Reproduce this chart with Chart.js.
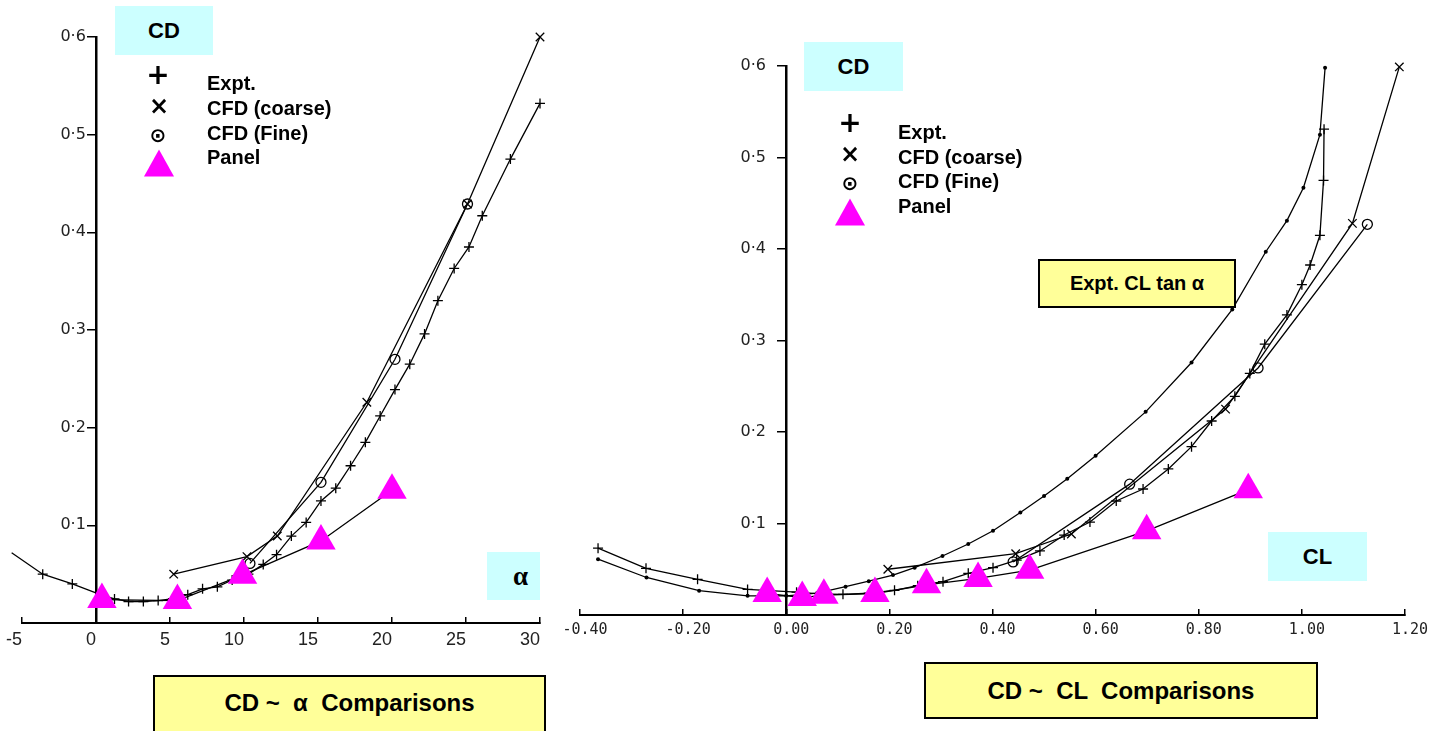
<!DOCTYPE html>
<html>
<head>
<meta charset="utf-8">
<script src="https://cdn.jsdelivr.net/npm/chart.js@4.4.0/dist/chart.umd.min.js"></script>
<style>
html, body { margin:0; padding:0; background:#fff; width:1447px; height:731px; overflow:hidden; }
canvas { position:absolute; top:0; }
#leftChart { left:-20px; }
#rightChart { left:540px; }
.box { position:absolute; box-sizing:border-box; font-family:"Liberation Sans", Arial, sans-serif; font-weight:bold; color:#000; display:flex; align-items:center; justify-content:center; white-space:pre; }
.cyan { background:#ccffff; }
.yellow { background:#ffff99; border:2px solid #000; }
.lbl { position:absolute; font-family:"Liberation Sans", Arial, sans-serif; font-weight:bold; font-size:20px; line-height:20px; white-space:pre; }
.sym { position:absolute; font-family:"DejaVu Sans", sans-serif; font-weight:bold; transform:translate(-50%,-50%); line-height:1; }
.tri { position:absolute; width:0; height:0; border-left:15px solid transparent; border-right:15px solid transparent; border-bottom:27px solid #ff00ff; transform:translate(-50%,-50%); }
</style>
</head>
<body>
<canvas id="leftChart" width="588" height="731"></canvas>
<canvas id="rightChart" width="907" height="731"></canvas>

<!-- left panel labels -->
<div class="box cyan" style="left:115px;top:6px;width:98px;height:49px;font-size:22px;">CD</div>
<div class="sym" style="left:158px;top:75px;font-size:28px;">+</div>
<div class="sym" style="left:159px;top:106px;font-size:24px;">×</div>
<div class="sym" style="left:158px;top:135px;font-size:20px;">⊙</div>
<div class="tri" style="left:159px;top:163px;"></div>
<div class="lbl" style="left:207px;top:73px;">Expt.</div>
<div class="lbl" style="left:207px;top:98px;">CFD (coarse)</div>
<div class="lbl" style="left:207px;top:123px;">CFD (Fine)</div>
<div class="lbl" style="left:207px;top:147px;">Panel</div>
<div class="box cyan" style="left:487px;top:552px;width:53px;height:48px;font-family:'Liberation Serif',serif;font-size:27px;padding-left:14px;">α</div>
<div class="box yellow" style="left:153px;top:675px;width:393px;height:64px;font-size:24px;align-items:flex-start;padding-top:12px;">CD ~  α  Comparisons</div>

<!-- right panel labels -->
<div class="box cyan" style="left:804px;top:42px;width:99px;height:49px;font-size:22px;">CD</div>
<div class="sym" style="left:850px;top:123px;font-size:28px;">+</div>
<div class="sym" style="left:850px;top:154px;font-size:24px;">×</div>
<div class="sym" style="left:850px;top:183px;font-size:20px;">⊙</div>
<div class="tri" style="left:850px;top:212px;"></div>
<div class="lbl" style="left:898px;top:122px;">Expt.</div>
<div class="lbl" style="left:898px;top:147px;">CFD (coarse)</div>
<div class="lbl" style="left:898px;top:171px;">CFD (Fine)</div>
<div class="lbl" style="left:898px;top:196px;">Panel</div>
<div class="box yellow" style="left:1038px;top:259px;width:198px;height:49px;font-size:20px;">Expt. CL tan α</div>
<div class="box cyan" style="left:1268px;top:532px;width:99px;height:49px;font-size:22px;">CL</div>
<div class="box yellow" style="left:924px;top:662px;width:394px;height:57px;font-size:24px;">CD ~  CL  Comparisons</div>

<script>
// ---- CD vs alpha ----
const alphaExpt = [-5.7, -3.6, -1.6, 0.3, 1.25, 2.2, 3.2, 4.2, 5.2, 6.2, 7.2, 8.2, 9.2, 10.3, 11.3, 12.2, 13.2, 14.2, 15.2, 16.2, 17.2, 18.2, 19.2, 20.2, 21.2, 22.2, 23.1, 24.2, 25.2, 26.1, 28.0, 30.0];
const cdExptA = [0.072, 0.050, 0.040, 0.029, 0.0246, 0.022, 0.022, 0.023, 0.025, 0.029, 0.035, 0.037, 0.044, 0.050, 0.060, 0.070, 0.089, 0.103, 0.125, 0.138, 0.161, 0.185, 0.212, 0.239, 0.265, 0.296, 0.330, 0.363, 0.385, 0.417, 0.475, 0.532];
const alphaCoarse = [5.25, 10.2, 12.25, 18.3, 25.1, 30.0];
const cdCoarseA = [0.050, 0.068, 0.089, 0.226, 0.429, 0.600];
const alphaFine = [10.4, 15.2, 20.2, 25.1];
const cdFineA = [0.061, 0.144, 0.270, 0.429];
const alphaPanel = [0.4, 5.5, 9.9, 15.2, 20.0];
const cdPanelA = [0.024, 0.023, 0.049, 0.084, 0.136];
const alphaTicks = [-5, 0, 5, 10, 15, 20, 25, 30];

// ---- CD vs CL ----
const clExpt = [-0.365, -0.272, -0.172, -0.075, 0.02, 0.065, 0.11, 0.16, 0.21, 0.255, 0.304, 0.353, 0.401, 0.447, 0.492, 0.539, 0.589, 0.64, 0.692, 0.741, 0.786, 0.825, 0.870, 0.899, 0.928, 0.971, 1.0, 1.016, 1.035, 1.042, 1.043];
const cdExptC = [0.073, 0.051, 0.039, 0.028, 0.025, 0.023, 0.0226, 0.024, 0.027, 0.032, 0.0364, 0.0455, 0.0517, 0.060, 0.070, 0.0874, 0.1016, 0.1246, 0.1377, 0.1596, 0.184, 0.212, 0.239, 0.264, 0.296, 0.328, 0.361, 0.3825, 0.415, 0.475, 0.531];
const clTan = [-0.365, -0.271, -0.169, -0.075, 0.0, 0.06, 0.115, 0.16, 0.207, 0.249, 0.303, 0.353, 0.401, 0.454, 0.50, 0.545, 0.600, 0.697, 0.786, 0.865, 0.930, 0.971, 1.003, 1.035, 1.045];
const cdTan = [0.061, 0.041, 0.0266, 0.021, 0.021, 0.024, 0.031, 0.037, 0.0437, 0.0517, 0.0645, 0.0776, 0.0921, 0.112, 0.130, 0.149, 0.174, 0.222, 0.276, 0.334, 0.397, 0.431, 0.467, 0.525, 0.598];
const clCoarse = [0.197, 0.445, 0.553, 0.852, 1.098, 1.189];
const cdCoarseC = [0.050, 0.067, 0.0885, 0.225, 0.428, 0.599];
const clFine = [0.44, 0.666, 0.915, 1.127];
const cdFineC = [0.058, 0.143, 0.270, 0.427];
const clPanel = [-0.037, 0.031, 0.073, 0.172, 0.272, 0.372, 0.472, 0.699, 0.896];
const cdPanelC = [0.0235, 0.019, 0.0217, 0.0235, 0.033, 0.040, 0.049, 0.092, 0.137];
const clTicks = [-0.4, -0.2, 0, 0.2, 0.4, 0.6, 0.8, 1.0, 1.2];
const cdTicks = [0, 0.1, 0.2, 0.3, 0.4, 0.5, 0.6];

function pts(xs, ys) {
    return xs.map((x, i) => ({x: x, y: ys[i]}));
}

function lineSet(label, data, style, radius, extra) {
    return Object.assign({
        label: label,
        data: data,
        showLine: true,
        borderColor: '#000',
        borderWidth: 1.3,
        tension: 0,
        clip: false,
        pointStyle: style,
        pointRadius: radius,
        pointHoverRadius: radius,
        pointBorderColor: '#000',
        pointBackgroundColor: 'rgba(0,0,0,0)',
        pointBorderWidth: 1.3
    }, extra || {});
}

function panelSet(data) {
    return lineSet('Panel', data, 'triangle', 17, {
        pointBackgroundColor: '#ff00ff',
        pointBorderColor: '#ff00ff',
        pointBorderWidth: 0
    });
}

function cdLabel(v) {
    if (v === 0) return '';
    return v.toFixed(1).replace('.', '·');
}

function makeOptions(xmin, xmax, xt, xLabel, pad, yTickPad) {
    return {
        responsive: false,
        animation: false,
        layout: { padding: pad },
        plugins: { legend: { display: false }, tooltip: { enabled: false } },
        scales: {
            x: {
                type: 'linear', min: xmin, max: xmax, position: 'bottom',
                afterBuildTicks: s => { s.ticks = xLabel.map(v => ({value: v})); },
                afterFit: s => { s.height = 30; },
                ticks: { font: xt.font, color: '#222', padding: xt.padding, align: xt.align, labelOffset: xt.offset, maxRotation: 0, autoSkip: false, callback: xt.cb },
                grid: { drawOnChartArea: false, drawTicks: true, tickLength: -6, color: '#000', lineWidth: 1.5 },
                border: { display: true, color: '#000', width: 2 }
            },
            y: {
                type: 'linear', min: 0, max: 0.6, position: { x: 0 },
                afterBuildTicks: s => { s.ticks = cdTicks.map(v => ({value: v})); },
                afterFit: s => { s.width = 0; },
                ticks: { font: { family: 'DejaVu Sans', size: 16 }, color: '#222', padding: 2, callback: v => cdLabel(v) + yTickPad },
                grid: { drawOnChartArea: false, drawTicks: true, tickLength: 8, color: '#000', lineWidth: 1.5 },
                border: { display: true, color: '#000', width: 2.5 }
            }
        }
    };
}

new Chart(document.getElementById('leftChart'), {
    type: 'scatter',
    data: {
        datasets: [
            panelSet(pts(alphaPanel, cdPanelA)),
            lineSet('Expt.', pts(alphaExpt, cdExptA), 'cross', 5),
            lineSet('CFD (coarse)', pts(alphaCoarse, cdCoarseA), 'crossRot', 6),
            lineSet('CFD (Fine)', pts(alphaFine, cdFineA), 'circle', 5)
        ]
    },
    options: makeOptions(-5, 30,
        { font: { family: 'Liberation Sans', size: 18 }, padding: 12, align: 'end', offset: 0, cb: v => String(v) },
        alphaTicks, { left: 42, right: 28, top: 37, bottom: 78 }, '  ')
});

new Chart(document.getElementById('rightChart'), {
    type: 'scatter',
    data: {
        datasets: [
            panelSet(pts(clPanel, cdPanelC)),
            lineSet('Expt.', pts(clExpt, cdExptC), 'cross', 5),
            lineSet('Expt. CL tan α', pts(clTan, cdTan), 'circle', 2, { pointBackgroundColor: '#000', pointBorderWidth: 0 }),
            lineSet('CFD (coarse)', pts(clCoarse, cdCoarseC), 'crossRot', 6),
            lineSet('CFD (Fine)', pts(clFine, cdFineC), 'circle', 5)
        ]
    },
    options: makeOptions(-0.4, 1.2,
        { font: { family: 'DejaVu Sans Mono', size: 15 }, padding: 12, align: 'center', offset: 5, cb: v => v.toFixed(2) },
        clTicks, { left: 40, right: 42, top: 66, bottom: 86 }, '    ')
});
</script>
</body>
</html>
